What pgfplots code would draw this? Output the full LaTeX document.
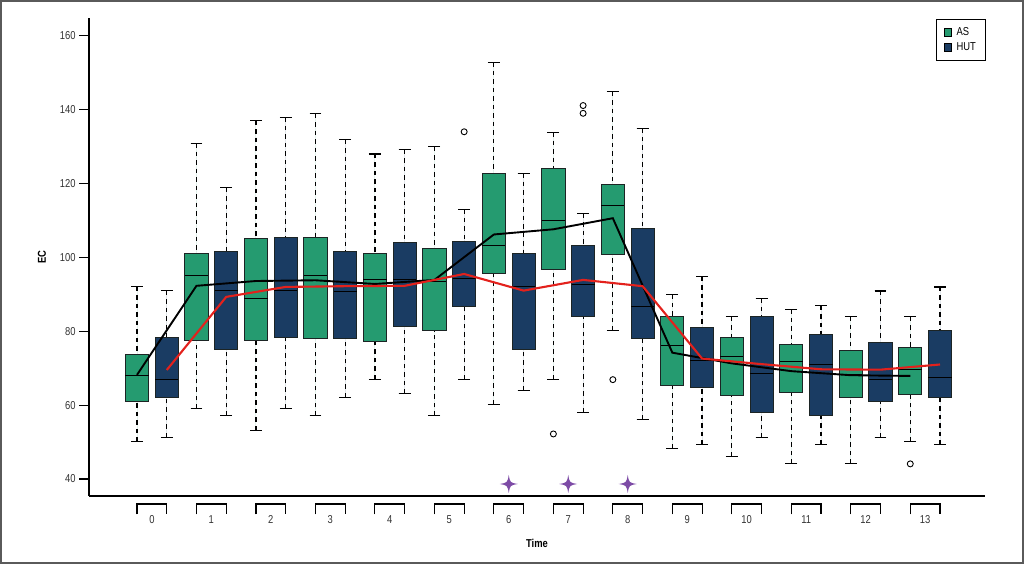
\documentclass[border=0pt]{standalone}
\usepackage{fontspec}
\setmainfont[FakeStretch=0.82]{Liberation Sans}
\usepackage{pgfplots}
\pgfplotsset{compat=1.18}
\usepgfplotslibrary{statistics}
\definecolor{asgreen}{HTML}{259B70}
\definecolor{hutblue}{HTML}{1A3C63}
\definecolor{boxedge}{HTML}{1C2424}
\definecolor{starpurple}{HTML}{7D4BA6}
\definecolor{meanred}{HTML}{E3211C}
\definecolor{framegray}{HTML}{5A5A5A}

\pgfdeclareplotmark{fourstar}{%
  \pgfpathmoveto{\pgfqpoint{0pt}{\pgfplotmarksize}}%
  \pgfpathcurveto{\pgfqpoint{0.15\pgfplotmarksize}{0.15\pgfplotmarksize}}{\pgfqpoint{0.15\pgfplotmarksize}{0.15\pgfplotmarksize}}{\pgfqpoint{\pgfplotmarksize}{0pt}}%
  \pgfpathcurveto{\pgfqpoint{0.15\pgfplotmarksize}{-0.15\pgfplotmarksize}}{\pgfqpoint{0.15\pgfplotmarksize}{-0.15\pgfplotmarksize}}{\pgfqpoint{0pt}{-\pgfplotmarksize}}%
  \pgfpathcurveto{\pgfqpoint{-0.15\pgfplotmarksize}{-0.15\pgfplotmarksize}}{\pgfqpoint{-0.15\pgfplotmarksize}{-0.15\pgfplotmarksize}}{\pgfqpoint{-\pgfplotmarksize}{0pt}}%
  \pgfpathcurveto{\pgfqpoint{-0.15\pgfplotmarksize}{0.15\pgfplotmarksize}}{\pgfqpoint{-0.15\pgfplotmarksize}{0.15\pgfplotmarksize}}{\pgfqpoint{0pt}{\pgfplotmarksize}}%
  \pgfpathclose
  \pgfusepathqfill
}

\pgfplotsset{
  boxplot/every whisker/.style={dash pattern=on 4.5bp off 4bp, draw=black, line width=1.2bp},
  boxplot/every cap/.style={solid, draw=black, line width=1.2bp},
  boxplot/every median/.style={draw=black, line width=1.0bp},
  boxplot/draw/lower whisker/.code={%
    \draw[/pgfplots/boxplot/every whisker/.try]
      (boxplot box cs:\pgfplotsboxplotvalue{lower whisker},0.5) --
      (boxplot box cs:\pgfplotsboxplotvalue{lower quartile},0.5);
    \draw[/pgfplots/boxplot/every cap/.try]
      (boxplot whisker cs:\pgfplotsboxplotvalue{lower whisker},0) --
      (boxplot whisker cs:\pgfplotsboxplotvalue{lower whisker},1);
  },
  boxplot/draw/upper whisker/.code={%
    \draw[/pgfplots/boxplot/every whisker/.try]
      (boxplot box cs:\pgfplotsboxplotvalue{upper whisker},0.5) --
      (boxplot box cs:\pgfplotsboxplotvalue{upper quartile},0.5);
    \draw[/pgfplots/boxplot/every cap/.try]
      (boxplot whisker cs:\pgfplotsboxplotvalue{upper whisker},0) --
      (boxplot whisker cs:\pgfplotsboxplotvalue{upper whisker},1);
  },
  asbox/.style={forget plot, draw=boxedge, fill=asgreen, line width=0.9bp,
    mark=o, mark size=3bp, mark options={draw=black, fill=none, solid, line width=0.9bp}},
  hutbox/.style={forget plot, draw=boxedge, fill=hutblue, line width=0.9bp,
    mark=o, mark size=3bp, mark options={draw=black, fill=none, solid, line width=0.9bp}},
}

\begin{document}
\begin{tikzpicture}
\useasboundingbox (0,0) rectangle (1024bp,564bp);
\draw[framegray, line width=2bp] (1bp,1bp) rectangle (1023bp,563bp);
\begin{axis}[
  at={(89bp,68bp)}, anchor=south west,
  scale only axis, width=896bp, height=478bp,
  xmin=-0.614, xmax=29.513, ymin=35.4, ymax=164.8,
  clip=false,
  axis x line*=bottom, axis y line*=left,
  axis line style={line width=1.2bp, black, -},
  tick align=outside, major tick length=10bp,
  ytick={40,60,...,160},
  ytick style={line width=1.2bp, black},
  xtick={1.5,3.5,...,27.5},
  xticklabels={0,1,2,3,4,5,6,7,8,9,10,11,12,13},
  xtick style={draw=none},
  /pgf/number format/assume math mode=true,
  tick label style={font=\fontsize{11.5}{12}\selectfont, text=black!80},
  xticklabel style={anchor=center, yshift=-13.5bp},
  xlabel={\textbf{Time}}, ylabel={\textbf{EC}},
  label style={font=\fontsize{11.5}{12}\selectfont},
  xlabel style={at={(axis description cs:0.5,-0.0983)}, anchor=center},
  ylabel style={at={(axis description cs:-0.0525,0.5)}, anchor=center},
  boxplot/draw direction=y,
  boxplot/box extend=0.78, boxplot/whisker extend=0.4,
  legend style={at={(1.001,0.998)}, anchor=north east, draw=black, line width=0.9bp,
    font=\fontsize{11.5}{13}\selectfont, inner xsep=7.5bp, inner ysep=6.5bp, row sep=1.5bp,
    nodes={inner sep=2bp}},
  legend cell align=left,
]
% group 0
\addplot[asbox, boxplot prepared={draw position=1, lower whisker=50.1, lower quartile=61.0, median=67.9, upper quartile=73.6, upper whisker=92.1}] coordinates {};
\addplot[hutbox, boxplot prepared={draw position=2, lower whisker=51.3, lower quartile=62.0, median=67.0, upper quartile=78.4, upper whisker=91.0}] coordinates {};
% group 1
\addplot[asbox, boxplot prepared={draw position=3, lower whisker=59.0, lower quartile=77.5, median=95.0, upper quartile=101.1, upper whisker=130.9}] coordinates {};
\addplot[hutbox, boxplot prepared={draw position=4, lower whisker=57.1, lower quartile=75.2, median=90.9, upper quartile=101.5, upper whisker=118.9}] coordinates {};
% group 2
\addplot[asbox, boxplot prepared={draw position=5, lower whisker=53.2, lower quartile=77.5, median=88.9, upper quartile=105.2, upper whisker=137.0}] coordinates {};
\addplot[hutbox, boxplot prepared={draw position=6, lower whisker=59.0, lower quartile=78.4, median=91.1, upper quartile=105.4, upper whisker=137.9}] coordinates {};
% group 3
\addplot[asbox, boxplot prepared={draw position=7, lower whisker=57.1, lower quartile=78.1, median=95.0, upper quartile=105.4, upper whisker=138.9}] coordinates {};
\addplot[hutbox, boxplot prepared={draw position=8, lower whisker=62.1, lower quartile=78.1, median=90.8, upper quartile=101.6, upper whisker=131.9}] coordinates {};
% group 4
\addplot[asbox, boxplot prepared={draw position=9, lower whisker=67.0, lower quartile=77.3, median=93.9, upper quartile=101.1, upper whisker=128.0}] coordinates {};
\addplot[hutbox, boxplot prepared={draw position=10, lower whisker=63.1, lower quartile=81.2, median=93.9, upper quartile=104.1, upper whisker=129.2}] coordinates {};
% group 5
\addplot[asbox, boxplot prepared={draw position=11, lower whisker=57.1, lower quartile=80.2, median=93.6, upper quartile=102.4, upper whisker=130.0}] coordinates {};
\addplot[hutbox, boxplot prepared={draw position=12, lower whisker=67.0, lower quartile=86.6, median=94.2, upper quartile=104.4, upper whisker=113.0}] coordinates {(0,134.0)};
% group 6
\addplot[asbox, boxplot prepared={draw position=13, lower whisker=60.1, lower quartile=95.6, median=103.2, upper quartile=122.6, upper whisker=152.8}] coordinates {};
\addplot[hutbox, boxplot prepared={draw position=14, lower whisker=64.0, lower quartile=75.2, median=92.1, upper quartile=101.1, upper whisker=122.8}] coordinates {};
% group 7
\addplot[asbox, boxplot prepared={draw position=15, lower whisker=67.0, lower quartile=96.8, median=110.1, upper quartile=124.0, upper whisker=133.9}] coordinates {(0,52.2)};
\addplot[hutbox, boxplot prepared={draw position=16, lower whisker=58.0, lower quartile=84.0, median=92.7, upper quartile=103.1, upper whisker=111.8}] coordinates {(0,139.0) (0,141.1)};
% group 8
\addplot[asbox, boxplot prepared={draw position=17, lower whisker=80.1, lower quartile=100.7, median=114.0, upper quartile=119.7, upper whisker=144.8}] coordinates {(0,66.9)};
\addplot[hutbox, boxplot prepared={draw position=18, lower whisker=56.2, lower quartile=78.1, median=86.8, upper quartile=107.9, upper whisker=134.9}] coordinates {};
% group 9
\addplot[asbox, boxplot prepared={draw position=19, lower whisker=48.2, lower quartile=65.2, median=76.2, upper quartile=84.1, upper whisker=90.0}] coordinates {};
\addplot[hutbox, boxplot prepared={draw position=20, lower whisker=49.3, lower quartile=64.9, median=72.0, upper quartile=81.1, upper whisker=94.8}] coordinates {};
% group 10
\addplot[asbox, boxplot prepared={draw position=21, lower whisker=46.2, lower quartile=62.7, median=73.2, upper quartile=78.2, upper whisker=83.9}] coordinates {};
\addplot[hutbox, boxplot prepared={draw position=22, lower whisker=51.2, lower quartile=58.1, median=68.6, upper quartile=84.1, upper whisker=88.9}] coordinates {};
% group 11
\addplot[asbox, boxplot prepared={draw position=23, lower whisker=44.1, lower quartile=63.5, median=71.8, upper quartile=76.5, upper whisker=85.9}] coordinates {};
\addplot[hutbox, boxplot prepared={draw position=24, lower whisker=49.3, lower quartile=57.1, median=70.9, upper quartile=79.2, upper whisker=86.9}] coordinates {};
% group 12
\addplot[asbox, boxplot prepared={draw position=25, lower whisker=44.1, lower quartile=62.1, median=68.2, upper quartile=74.7, upper whisker=84.1}] coordinates {};
\addplot[hutbox, boxplot prepared={draw position=26, lower whisker=51.2, lower quartile=61.0, median=67.0, upper quartile=77.1, upper whisker=90.9}] coordinates {};
% group 13
\addplot[asbox, boxplot prepared={draw position=27, lower whisker=50.2, lower quartile=62.9, median=69.7, upper quartile=75.6, upper whisker=83.9}] coordinates {(0,44.1)};
\addplot[hutbox, boxplot prepared={draw position=28, lower whisker=49.3, lower quartile=62.1, median=67.6, upper quartile=80.1, upper whisker=92.0}] coordinates {};

% mean lines
\addplot[forget plot, black, line width=1.9bp, mark=none] coordinates {
 (1,68.2) (3,92.3) (5,93.6) (7,93.8) (9,92.8) (11,93.9) (13,106.2) (15,107.6) (17,110.6)
 (19,74.2) (21,71.3) (23,69.2) (25,68.1) (27,67.9)};
\addplot[forget plot, meanred, line width=2.1bp, mark=none] coordinates {
 (2,69.5) (4,89.3) (6,92.0) (8,92.2) (10,92.3) (12,95.5) (14,91.0) (16,93.9) (18,92.2)
 (20,72.6) (22,71.1) (24,69.7) (26,69.6) (28,71.0)};

% significance stars
\addplot[forget plot, only marks, mark=fourstar, mark size=9bp, color=starpurple] coordinates {
 (13.5,38.65) (15.5,38.65) (17.5,38.65)};

% group brackets
\pgfplotsinvokeforeach{1,3,...,27}{%
  \draw[line width=1.1bp, black]
    ([yshift=-18.3bp]axis cs:#1,35.4) -- ([yshift=-8bp]axis cs:#1,35.4)
    -- ++(29.74bp,0bp) -- ++(0bp,-10.3bp);
}

\addlegendimage{legend image code/.code={\draw[fill=asgreen,draw=black,line width=0.8bp] (0bp,-3.8bp) rectangle (7.6bp,3.8bp); \path (10bp,0bp);}}
\addlegendentry{AS}
\addlegendimage{legend image code/.code={\draw[fill=hutblue,draw=black,line width=0.8bp] (0bp,-3.8bp) rectangle (7.6bp,3.8bp); \path (10bp,0bp);}}
\addlegendentry{HUT}
\end{axis}
\end{tikzpicture}
\end{document}
